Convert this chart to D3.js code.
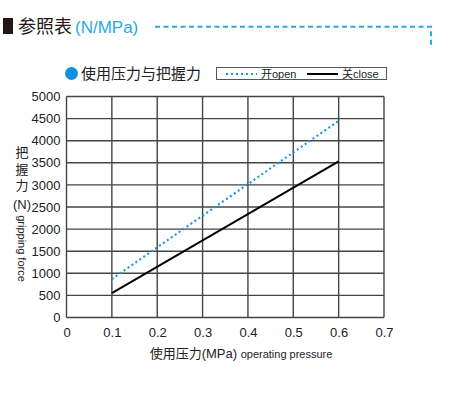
<!DOCTYPE html>
<html>
<head>
<meta charset="utf-8">
<script src="https://cdn.jsdelivr.net/npm/d3@7"></script>
<style>
  body { margin: 0; background: #fff; }
  svg { display: block; font-family: "Liberation Sans", Arial, "Noto Sans CJK SC", sans-serif; }
</style>
</head>
<body>
<svg id="chart" width="456" height="393"></svg>
<script>
// values
const pressure = [0.1, 0.6];
const openForce = [870, 4450];
const closeForce = [550, 3530];
const xTicks = [0, 0.1, 0.2, 0.3, 0.4, 0.5, 0.6, 0.7];
const yTicks = d3.range(0, 5001, 500);

const BLUE = '#29a9e1';
const GRID = '#444';
const CJK = '"Noto Sans CJK SC", "Liberation Sans", sans-serif';
const LAT = '"Liberation Sans", Arial, sans-serif';

const svg = d3.select('#chart');
const margin = { left: 66.5, top: 96.5, right: 456 - 384, bottom: 393 - 317.5 };
const width = 456 - margin.left - margin.right;
const height = 393 - margin.top - margin.bottom;

const x = d3.scaleLinear().domain([0, 0.7]).range([0, width]);
const y = d3.scaleLinear().domain([0, 5000]).range([height, 0]);

// header
svg.append('rect').attr('x', 3).attr('y', 18).attr('width', 10).attr('height', 16).attr('fill', '#231815');
svg.append('text').attr('x', 18).attr('y', 33)
  .attr('font-family', CJK).attr('font-size', 18).attr('fill', '#231815').text('参照表');
svg.append('text').attr('x', 75).attr('y', 33)
  .attr('font-size', 17).attr('fill', BLUE).text('(N/MPa)');
svg.append('path')
  .attr('d', 'M155,26.7H431V46')
  .attr('fill', 'none').attr('stroke', BLUE).attr('stroke-width', 2)
  .attr('stroke-dasharray', '5,3.5');

// subtitle + legend
svg.append('circle').attr('cx', 71.5).attr('cy', 73.5).attr('r', 6.5).attr('fill', '#0f8fe0');
svg.append('text').attr('x', 81).attr('y', 79)
  .attr('font-family', CJK).attr('font-size', 15).attr('fill', '#222').text('使用压力与把握力');

const leg = svg.append('g');
leg.append('rect').attr('x', 216.5).attr('y', 67.5).attr('width', 170).attr('height', 12)
  .attr('fill', '#fff').attr('stroke', '#555').attr('stroke-width', 1);
leg.append('line').attr('x1', 226).attr('x2', 257).attr('y1', 74).attr('y2', 74)
  .attr('stroke', '#1a96e0').attr('stroke-width', 2).attr('stroke-dasharray', '2,3');
leg.append('text').attr('x', 261).attr('y', 77.5).attr('font-size', 11).attr('fill', '#222')
  .text('开').attr('font-family', CJK)
  .append('tspan').attr('font-family', LAT).text('open');
leg.append('line').attr('x1', 307).attr('x2', 338).attr('y1', 74).attr('y2', 74)
  .attr('stroke', '#000').attr('stroke-width', 2);
leg.append('text').attr('x', 342).attr('y', 77.5).attr('font-size', 11).attr('fill', '#222')
  .text('关').attr('font-family', CJK)
  .append('tspan').attr('font-family', LAT).text('close');

const g = svg.append('g').attr('transform', `translate(${margin.left},${margin.top})`);

// grid
g.append('g').selectAll('line').data(xTicks).join('line')
  .attr('x1', d => x(d)).attr('x2', d => x(d)).attr('y1', 0).attr('y2', height)
  .attr('stroke', GRID).attr('stroke-width', 1.4);
g.append('g').selectAll('line').data(yTicks).join('line')
  .attr('x1', 0).attr('x2', width).attr('y1', d => y(d)).attr('y2', d => y(d))
  .attr('stroke', GRID).attr('stroke-width', 1.4);

// axes labels
g.append('g').attr('transform', `translate(0,${height})`)
  .call(d3.axisBottom(x).tickValues(xTicks).tickSize(0).tickPadding(10).tickFormat(d => d === 0 ? '0' : d3.format('.1f')(d)))
  .call(a => a.select('.domain').remove())
  .selectAll('text').attr('font-size', 13).attr('fill', '#222').attr('font-family', LAT);
g.append('g')
  .call(d3.axisLeft(y).tickValues(yTicks).tickSize(0).tickPadding(6).tickFormat(d3.format('d')))
  .call(a => a.select('.domain').remove())
  .selectAll('text').attr('font-size', 13).attr('fill', '#222').attr('font-family', LAT);

// series
const line = d3.line().x(d => x(d[0])).y(d => y(d[1]));
g.append('path').datum(d3.zip(pressure, closeForce)).attr('d', line)
  .attr('fill', 'none').attr('stroke', '#000').attr('stroke-width', 2);
g.append('path').datum(d3.zip(pressure, openForce)).attr('d', line)
  .attr('fill', 'none').attr('stroke', '#1a96e0').attr('stroke-width', 2.2).attr('stroke-dasharray', '2,2.8');

// y title: vertical CJK run, then (N), then rotated English
svg.append('text').attr('x', 22).attr('y', 146)
  .style('writing-mode', 'vertical-rl').attr('letter-spacing', 3.5)
  .attr('font-family', CJK).attr('font-size', 13).attr('fill', '#222').text('把握力');
svg.append('text').attr('x', 22).attr('y', 209).attr('text-anchor', 'middle')
  .attr('font-family', LAT).attr('font-size', 13).attr('fill', '#222').text('(N)');
svg.append('text').attr('transform', 'translate(17.5,248.5) rotate(90)').attr('text-anchor', 'middle')
  .attr('font-size', 11).attr('fill', '#222').text('gripping force');

// x title
const xt = svg.append('text').attr('x', 241).attr('y', 358).attr('text-anchor', 'middle').attr('fill', '#222');
xt.append('tspan').attr('font-family', CJK).attr('font-size', 13).text('使用压力');
xt.append('tspan').attr('font-size', 13).text('(MPa) ');
xt.append('tspan').attr('font-size', 11).text('operating pressure');
</script>
</body>
</html>
